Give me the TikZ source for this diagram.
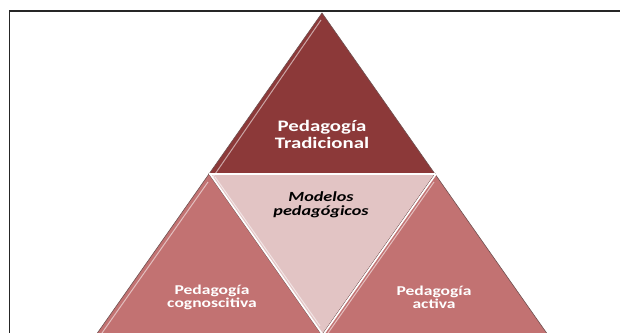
\documentclass[tikz,border=0pt]{standalone}
\usepackage{fontspec}
\setmainfont{Carlito}
\definecolor{topred}{RGB}{140,57,57}
\definecolor{sidered}{RGB}{194,114,114}
\definecolor{midpink}{RGB}{226,196,196}
\definecolor{edgedark}{RGB}{110,80,80}
\tikzset{
  tri/.style={line width=0.6pt, draw=edgedark, line join=miter},
  gap/.style={draw=white, line width=1.6pt},
  hilite/.style={draw=white, opacity=0.55, line width=1pt},
  frame/.style={draw=black!85, line width=1.8pt},
  wlabel/.style={text=white, font=\bfseries, align=center, transform shape, xscale=1.3, inner sep=0pt},
  blabel/.style={text=black, font=\bfseries\itshape, align=center, transform shape, xscale=1.3, inner sep=0pt}
}
\begin{document}
\begin{tikzpicture}[x=1pt,y=-1pt]
\useasboundingbox (0,0) rectangle (620,332);
\fill[white] (0,0) rectangle (620,332);
% vertices
\coordinate (A) at (322,13);
\coordinate (B) at (209,174);
\coordinate (C) at (435,174);
\coordinate (D) at (96,335);
\coordinate (E) at (322,335);
\coordinate (F) at (548,335);
% frame
\draw[frame] (9.5,340) -- (9.5,11) -- (625,11);
% triangles
\filldraw[tri, fill=topred] (A) -- (B) -- (C) -- cycle;
\filldraw[tri, fill=sidered] (B) -- (D) -- (E) -- cycle;
\filldraw[tri, fill=midpink] (B) -- (C) -- (E) -- cycle;
\filldraw[tri, fill=sidered] (C) -- (E) -- (F) -- cycle;
% gaps
\draw[gap] (B) -- (C);
\draw[gap, shorten <=-1pt] ([xshift=1pt]B) -- ([xshift=1pt]E);
\draw[gap] ([xshift=1pt]C) -- ([xshift=1pt]E);
% bevel highlights along left edges
\draw[hilite] (321,20) -- ([xshift=4pt,yshift=-3pt]B);
\draw[hilite] (208,182) -- (102,333);
\draw[hilite] (434,182) -- (328,333);
\draw[hilite] (215,177) -- (320,326);
% labels
\node[wlabel, font=\bfseries\fontsize{16}{17}\selectfont] (trad) at (322,134) {Pedagogía\\Tradicional};
\node[blabel, font=\bfseries\itshape\fontsize{14}{14.5}\selectfont] (mod) at (321,205) {Modelos\\pedagógicos};
\node[wlabel, font=\bfseries\fontsize{13.5}{13}\selectfont] (cog) at (212,297) {Pedagogía\\cognoscitiva};
\node[wlabel, font=\bfseries\fontsize{13.5}{13}\selectfont] (act) at (434,297) {Pedagogía\\activa};
\end{tikzpicture}
\end{document}
